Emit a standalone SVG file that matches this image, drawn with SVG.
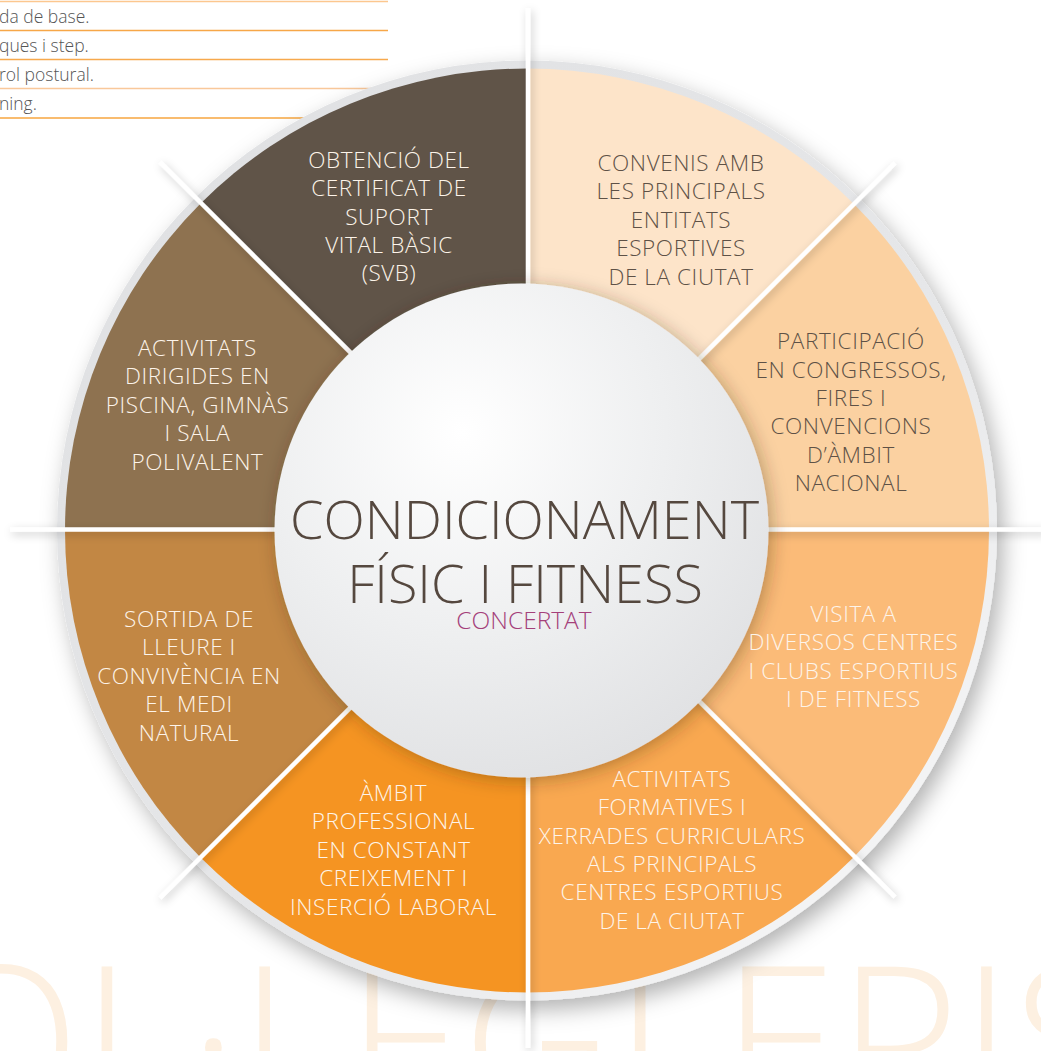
<svg xmlns="http://www.w3.org/2000/svg" width="1041" height="1051" viewBox="0 0 1041 1051">
<defs>
<style>
.lbl{font-family:'Open Sans','Liberation Sans',sans-serif;font-weight:300;font-size:22.5px;letter-spacing:0.6px;text-anchor:middle}
.lt{fill:#fdf4ea}
.dk{fill:#5e5146}
.list{font-family:'Open Sans','Liberation Sans',sans-serif;font-weight:300;font-size:17.5px;fill:#555555}
.rule{stroke-width:1.6}
.div{stroke:#ffffff;stroke-width:4.5;fill:none}
.title{font-family:'Open Sans','Liberation Sans',sans-serif;font-weight:300;font-size:54px;fill:#55483f;text-anchor:middle}
</style>
<clipPath id="disc"><circle cx="527" cy="530.5" r="462"/></clipPath>
<linearGradient id="ringG" x1="0" y1="0" x2="1" y2="1">
<stop offset="0" stop-color="#dfe0e2"/>
<stop offset="0.6" stop-color="#e6e7e9"/>
<stop offset="1" stop-color="#fbfbfb"/>
</linearGradient>
<radialGradient id="hubG" cx="0.38" cy="0.3" r="0.75">
<stop offset="0" stop-color="#ffffff"/>
<stop offset="0.55" stop-color="#eeeff0"/>
<stop offset="1" stop-color="#e0e1e3"/>
</radialGradient>
<filter id="wheelSh" x="-20%" y="-20%" width="140%" height="140%">
<feDropShadow dx="6" dy="9" stdDeviation="11" flood-color="#000" flood-opacity="0.3"/>
</filter>
<filter id="hubSh" x="-20%" y="-20%" width="140%" height="140%">
<feDropShadow dx="3" dy="3" stdDeviation="9" flood-color="#3a2a10" flood-opacity="0.35"/>
</filter>
<filter id="divSh" x="-10%" y="-10%" width="120%" height="120%">
<feDropShadow dx="2" dy="3" stdDeviation="4" flood-color="#000" flood-opacity="0.22"/>
</filter>
</defs>
<rect width="1041" height="1051" fill="#ffffff"/>

<!-- watermark -->
<text x="-80" y="1117" font-family="'Open Sans','Liberation Sans',sans-serif" font-weight="300" font-size="210" fill="#fdf0e1">OL·LEGI EPIS</text>

<!-- top-left list -->
<g id="list">
<line class="rule" x1="0" y1="1.5" x2="388" y2="1.5" stroke="#fcc78f"/>
<text class="list" x="-1" y="23">da de base.</text>
<line class="rule" x1="0" y1="30.5" x2="388" y2="30.5" stroke="#f7a748"/>
<text class="list" x="-1" y="52">ques i step.</text>
<line class="rule" x1="0" y1="59.5" x2="388" y2="59.5" stroke="#f7a94d"/>
<text class="list" x="-1" y="81">rol postural.</text>
<line class="rule" x1="0" y1="88.5" x2="388" y2="88.5" stroke="#f9c89a"/>
<text class="list" x="-1" y="110">ning.</text>
<line class="rule" x1="0" y1="118" x2="388" y2="118" stroke="#f7a63f"/>
</g>

<!-- ring -->
<circle cx="527" cy="530.5" r="470" fill="url(#ringG)" filter="url(#wheelSh)"/>

<!-- segments -->
<g clip-path="url(#disc)">
<g id="seg1"><polygon points="528,530 528,-170 1023,35" fill="#fde4c9"/></g>
<g id="seg2"><polygon points="528,530 1023,35 1228,530" fill="#fbd1a1"/></g>
<g id="seg3"><polygon points="528,530 1228,530 1023,1025" fill="#fbbb78"/></g>
<g id="seg4"><polygon points="528,530 1023,1025 528,1230" fill="#f9a850"/></g>
<g id="seg5"><polygon points="528,530 528,1230 33,1025" fill="#f59422"/></g>
<g id="seg6"><polygon points="528,530 33,1025 -172,530" fill="#c28744"/></g>
<g id="seg7"><polygon points="528,530 -172,530 33,35" fill="#8e7250"/></g>
<g id="seg8"><polygon points="528,530 33,35 528,-170" fill="#605448"/></g>
</g>

<!-- dividers -->
<g id="connectors" filter="url(#divSh)">
<line class="div" x1="528" y1="8" x2="528" y2="1048"/>
<line class="div" x1="10" y1="529.5" x2="1046" y2="529.5"/>
<line class="div" x1="160" y1="162" x2="895" y2="897"/>
<line class="div" x1="895" y1="163" x2="160" y2="898"/>
</g>

<!-- hub -->
<g id="hub">
<circle cx="521.5" cy="530.5" r="247" fill="url(#hubG)" filter="url(#hubSh)"/>
<text class="title" x="524.5" y="539">CONDICIONAMENT</text>
<text class="title" x="525" y="603">FÍSIC I FITNESS</text>
<text x="524" y="629" font-family="'Open Sans','Liberation Sans',sans-serif" font-weight="300" font-size="24.5" fill="#a4407a" text-anchor="middle">CONCERTAT</text>
</g>

<!-- labels -->
<g id="n1" class="lbl dk">
<text x="681" y="171">CONVENIS AMB</text>
<text x="681" y="199">LES PRINCIPALS</text>
<text x="681" y="228">ENTITATS</text>
<text x="681" y="256">ESPORTIVES</text>
<text x="681" y="284.5">DE LA CIUTAT</text>
</g>
<g id="n2" class="lbl dk">
<text x="851" y="349">PARTICIPACIÓ</text>
<text x="851" y="377.5">EN CONGRESSOS,</text>
<text x="851" y="406">FIRES I</text>
<text x="851" y="434">CONVENCIONS</text>
<text x="851" y="463">D’ÀMBIT</text>
<text x="851" y="491">NACIONAL</text>
</g>
<g id="n3" class="lbl lt">
<text x="853.5" y="622">VISITA A</text>
<text x="853.5" y="650">DIVERSOS CENTRES</text>
<text x="853.5" y="678.5">I CLUBS ESPORTIUS</text>
<text x="853.5" y="707">I DE FITNESS</text>
</g>
<g id="n4" class="lbl lt">
<text x="672" y="787">ACTIVITATS</text>
<text x="672" y="815">FORMATIVES I</text>
<text x="672" y="843.5">XERRADES CURRICULARS</text>
<text x="672" y="872">ALS PRINCIPALS</text>
<text x="672" y="900">CENTRES ESPORTIUS</text>
<text x="672" y="929">DE LA CIUTAT</text>
</g>
<g id="n5" class="lbl lt">
<text x="393.5" y="801">ÀMBIT</text>
<text x="393.5" y="829">PROFESSIONAL</text>
<text x="393.5" y="858">EN CONSTANT</text>
<text x="393.5" y="886">CREIXEMENT I</text>
<text x="393.5" y="915">INSERCIÓ LABORAL</text>
</g>
<g id="n6" class="lbl lt">
<text x="189" y="627">SORTIDA DE</text>
<text x="189" y="655">LLEURE I</text>
<text x="189" y="684">CONVIVÈNCIA EN</text>
<text x="189" y="712">EL MEDI</text>
<text x="189" y="741">NATURAL</text>
</g>
<g id="n7" class="lbl lt">
<text x="197.5" y="356">ACTIVITATS</text>
<text x="197.5" y="384">DIRIGIDES EN</text>
<text x="197.5" y="413">PISCINA, GIMNÀS</text>
<text x="197.5" y="441">I SALA</text>
<text x="197.5" y="470">POLIVALENT</text>
</g>
<g id="n8" class="lbl lt">
<text x="389" y="167.5">OBTENCIÓ DEL</text>
<text x="389" y="196">CERTIFICAT DE</text>
<text x="389" y="224.5">SUPORT</text>
<text x="389" y="253">VITAL BÀSIC</text>
<text x="389" y="281">(SVB)</text>
</g>
</svg>
